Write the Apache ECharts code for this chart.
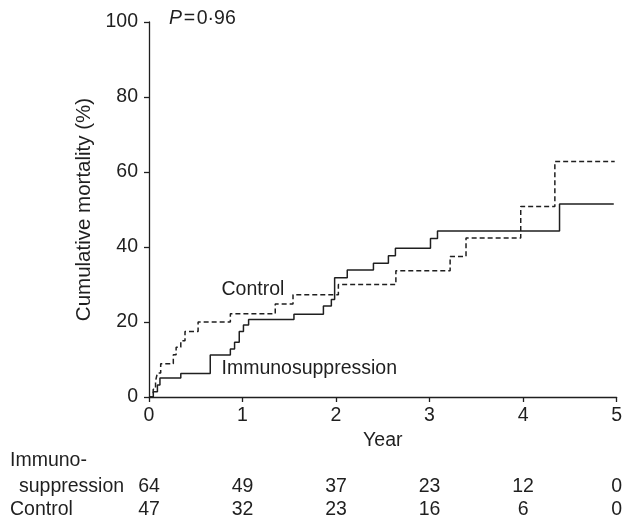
<!DOCTYPE html>
<html>
<head>
<meta charset="utf-8">
<script src="https://cdn.jsdelivr.net/npm/echarts@6/dist/echarts.min.js"></script>
<style>
  html, body { margin: 0; padding: 0; background: #fff; }
  #chart { width: 625px; height: 518px; }
</style>
</head>
<body>
<div id="chart"></div>
<script>
// Kaplan-Meier style cumulative mortality, two arms
const yearTicks = [0, 1, 2, 3, 4, 5];

const immunoTimes  = [0, 0.046, 0.09, 0.117, 0.34, 0.655, 0.87, 0.915, 0.965, 1.01, 1.065, 1.55, 1.865, 1.95, 1.985, 2.12, 2.40, 2.56, 2.635, 3.01, 3.085, 4.39, 4.97];
const immunoValues = [0, 1.4, 3.2, 5.1, 6.3, 11.2, 12.8, 14.6, 17.5, 19.2, 20.7, 22.1, 24.3, 26.0, 31.8, 33.9, 35.7, 37.7, 39.7, 42.3, 44.3, 51.5, 51.5];

const controlTimes  = [0, 0.045, 0.07, 0.09, 0.125, 0.26, 0.29, 0.34, 0.385, 0.525, 0.87, 1.35, 1.54, 2.025, 2.64, 3.22, 3.39, 3.975, 4.34, 4.98];
const controlValues = [0, 2.1, 4.3, 6.4, 8.9, 11.3, 13.3, 15.0, 17.5, 20.0, 22.2, 24.8, 27.3, 30.0, 33.7, 37.5, 42.4, 50.8, 62.8, 62.8];

const atRiskImmuno  = [64, 49, 37, 23, 12, 0];
const atRiskControl = [47, 32, 23, 16, 6, 0];

const FONT = "'Liberation Sans', Arial, Helvetica, sans-serif";
const INK = '#1f1f1f';
const FS = 19.5;

const pairs = (xs, ys) => xs.map((x, i) => [x, ys[i]]);

const chart = echarts.init(document.getElementById('chart'), null, { renderer: 'canvas' });

chart.setOption({
  backgroundColor: '#fff',
  animation: false,
  textStyle: { fontFamily: FONT, color: INK },
  grid: { left: 149, right: 6, top: 22, bottom: 121 },
  xAxis: {
    type: 'value', min: 0, max: 5, interval: 1,
    name: 'Year', nameLocation: 'middle', nameGap: 32,
    nameTextStyle: { fontFamily: FONT, fontSize: FS, color: INK },
    axisLine: { show: true, onZero: false, lineStyle: { color: INK, width: 1.3 } },
    axisTick: { show: true, length: 5, lineStyle: { color: INK, width: 1.3 } },
    axisLabel: { fontFamily: FONT, fontSize: FS, color: INK, margin: 9 },
    splitLine: { show: false }
  },
  yAxis: {
    type: 'value', min: 0, max: 100, interval: 20,
    name: 'Cumulative mortality (%)', nameLocation: 'middle', nameGap: 47,
    nameTextStyle: { fontFamily: FONT, fontSize: 20.5, color: INK },
    axisLine: { show: true, lineStyle: { color: INK, width: 1.3 } },
    axisTick: { show: true, length: 5, lineStyle: { color: INK, width: 1.3 } },
    axisLabel: { fontFamily: FONT, fontSize: FS, color: INK, margin: 11 },
    splitLine: { show: false }
  },
  series: [
    {
      name: 'Immunosuppression', type: 'line', step: 'end',
      data: pairs(immunoTimes, immunoValues),
      showSymbol: false, symbol: 'none',
      lineStyle: { color: INK, width: 1.5, type: 'solid' }
    },
    {
      name: 'Control', type: 'line', step: 'end',
      data: pairs(controlTimes, controlValues),
      showSymbol: false, symbol: 'none',
      lineStyle: { color: INK, width: 1.5, type: [5, 3] }
    }
  ]
});

// Annotations and numbers-at-risk table, placed through the axis scales
const px = (x, y) => chart.convertToPixel({ gridIndex: 0 }, [x, y]);
const graphics = [];
const txt = (x, y, text, align) => graphics.push({
  type: 'text', x, y,
  style: { text, fontFamily: FONT, fontSize: FS, fill: INK, align: align || 'left', verticalAlign: 'middle' }
});

const pLabel = px(0.215, 101);
graphics.push({
  type: 'text', x: pLabel[0], y: pLabel[1],
  style: {
    text: '{i|P}{n|\u200A=\u200A0·96}',
    verticalAlign: 'middle', align: 'left',
    rich: {
      i: { fontFamily: FONT, fontSize: FS, fontStyle: 'italic', fill: INK },
      n: { fontFamily: FONT, fontSize: FS, fill: INK }
    }
  }
});

const cPos = px(0.775, 28.7);
txt(cPos[0], cPos[1], 'Control');
const iPos = px(0.775, 7.7);
txt(iPos[0], iPos[1], 'Immunosuppression');

const rowY1 = 487, rowY2 = 510;
txt(10, 461, 'Immuno-');
txt(19, rowY1, 'suppression');
txt(10, rowY2, 'Control');
yearTicks.forEach((yr, i) => {
  const x = px(yr, 0)[0];
  txt(x, rowY1, String(atRiskImmuno[i]), 'center');
  txt(x, rowY2, String(atRiskControl[i]), 'center');
});

chart.setOption({ graphic: graphics });
</script>
</body>
</html>
